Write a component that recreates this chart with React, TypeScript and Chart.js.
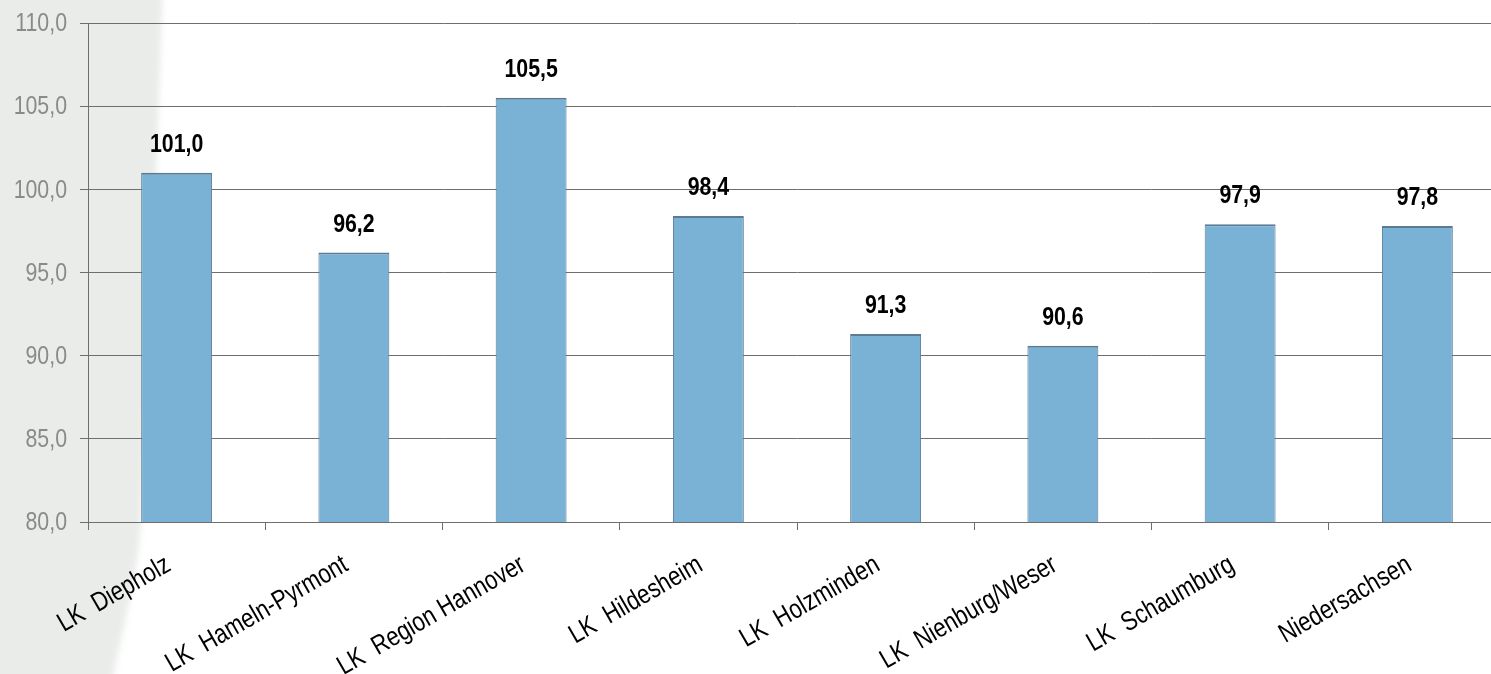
import React, { useEffect, useRef } from "react";
import { Chart, registerables } from "chart.js";

Chart.register(...registerables);

// Districts and the state total
const categories = [
  "LK  Diepholz",
  "LK  Hameln-Pyrmont",
  "LK  Region Hannover",
  "LK  Hildesheim",
  "LK  Holzminden",
  "LK  Nienburg/Weser",
  "LK  Schaumburg",
  "Niedersachsen",
];

// Index values per district
const values = [101.0, 96.2, 105.5, 98.4, 91.3, 90.6, 97.9, 97.8];

// Value axis range
const yMin = 80;
const yMax = 110;
const yStep = 5;

const FONT = '"Liberation Sans", Arial, sans-serif';
// Horizontal squeeze that gives the lettering a narrow-face look
const NARROW = 0.82;

const fmt = (v: number) => v.toFixed(1).replace(".", ",");

const W = 1506;
const H = 674;
const AXIS_COLOR = "#6e6e6e";

// Soft grey backdrop on the left edge
const backdropPlugin = {
  id: "backdrop",
  beforeDraw(chart: Chart) {
    const ctx = chart.ctx;
    ctx.save();
    ctx.fillStyle = "#ffffff";
    ctx.fillRect(0, 0, chart.width, chart.height);
    ctx.filter = "blur(3px)";
    ctx.fillStyle = "#e9ece9";
    ctx.beginPath();
    ctx.moveTo(-20, -20);
    ctx.lineTo(163, -20);
    ctx.bezierCurveTo(156, 200, 146, 420, 141, 522);
    ctx.bezierCurveTo(137, 580, 122, 630, 108, 700);
    ctx.lineTo(-20, 700);
    ctx.closePath();
    ctx.fill();
    ctx.restore();
  },
};

// Draws narrow text whose anchor sits at (x, y)
function narrowText(
  ctx: CanvasRenderingContext2D,
  text: string,
  x: number,
  y: number,
  angle = 0
) {
  ctx.save();
  ctx.translate(x, y);
  if (angle) ctx.rotate(angle);
  ctx.scale(NARROW, 1);
  ctx.fillText(text, 0, 0);
  ctx.restore();
}

// Axis tick labels and value labels
const labelPlugin = {
  id: "labels",
  afterDraw(chart: Chart) {
    const ctx = chart.ctx;
    const xs: any = chart.scales.x;
    const ys: any = chart.scales.y;

    ctx.save();
    // y-axis tick labels
    ctx.fillStyle = "#8a8a8a";
    ctx.font = `26px ${FONT}`;
    ctx.textAlign = "right";
    ctx.textBaseline = "middle";
    ys.ticks.forEach((t: any) => {
      narrowText(ctx, fmt(t.value), 67, ys.getPixelForValue(t.value) + 1);
    });

    // category labels, rotated 30 degrees
    ctx.fillStyle = "#000000";
    ctx.font = `27px ${FONT}`;
    ctx.textAlign = "right";
    ctx.textBaseline = "middle";
    categories.forEach((c, i) => {
      const px = xs.getPixelForTick(i);
      narrowText(ctx, c, px - 8, xs.top + 41, -Math.PI / 6);
    });

    // values above bars
    const meta = chart.getDatasetMeta(0);
    ctx.font = `bold 26px ${FONT}`;
    ctx.textAlign = "center";
    ctx.textBaseline = "alphabetic";
    meta.data.forEach((bar: any, i: number) => {
      narrowText(ctx, fmt(values[i]), bar.x, bar.y - 21);
    });
    ctx.restore();
  },
};

export default function App() {
  const canvasRef = useRef<HTMLCanvasElement | null>(null);

  useEffect(() => {
    const canvas = canvasRef.current;
    if (!canvas) return;
    const chart = new Chart(canvas, {
      type: "bar",
      data: {
        labels: categories,
        datasets: [
          {
            data: values,
            backgroundColor: "#79b2d5",
            borderColor: "#5b7b95",
            borderWidth: { top: 2, left: 1, right: 1, bottom: 0 },
            borderSkipped: false,
            categoryPercentage: 1,
            barPercentage: 0.4,
          },
        ],
      },
      options: {
        responsive: false,
        animation: false,
        devicePixelRatio: 1,
        layout: { padding: { top: 23, left: 0, right: 0, bottom: 0 } },
        plugins: {
          legend: { display: false },
          tooltip: { enabled: false },
        },
        scales: {
          x: {
            offset: true,
            grid: {
              offset: true,
              drawOnChartArea: false,
              drawTicks: true,
              tickLength: 8,
              color: AXIS_COLOR,
              lineWidth: 1,
            },
            border: { color: AXIS_COLOR, width: 1 },
            ticks: { display: false, autoSkip: false },
            afterFit(scale: any) {
              scale.height = H - 522;
            },
          },
          y: {
            min: yMin,
            max: yMax,
            grid: {
              color: AXIS_COLOR,
              lineWidth: 1,
              tickLength: 8,
              drawTicks: true,
            },
            border: { color: AXIS_COLOR, width: 1 },
            ticks: { display: false, stepSize: yStep },
            afterFit(scale: any) {
              scale.width = 88;
            },
          },
        },
      },
      plugins: [backdropPlugin, labelPlugin],
    });
    return () => chart.destroy();
  }, []);

  return (
    <div
      style={{
        position: "fixed",
        left: 0,
        top: 0,
        width: 1491,
        height: 674,
        overflow: "hidden",
        background: "#ffffff",
      }}
    >
      <canvas
        ref={canvasRef}
        width={W}
        height={H}
        style={{ display: "block", width: W, height: H }}
      />
    </div>
  );
}
